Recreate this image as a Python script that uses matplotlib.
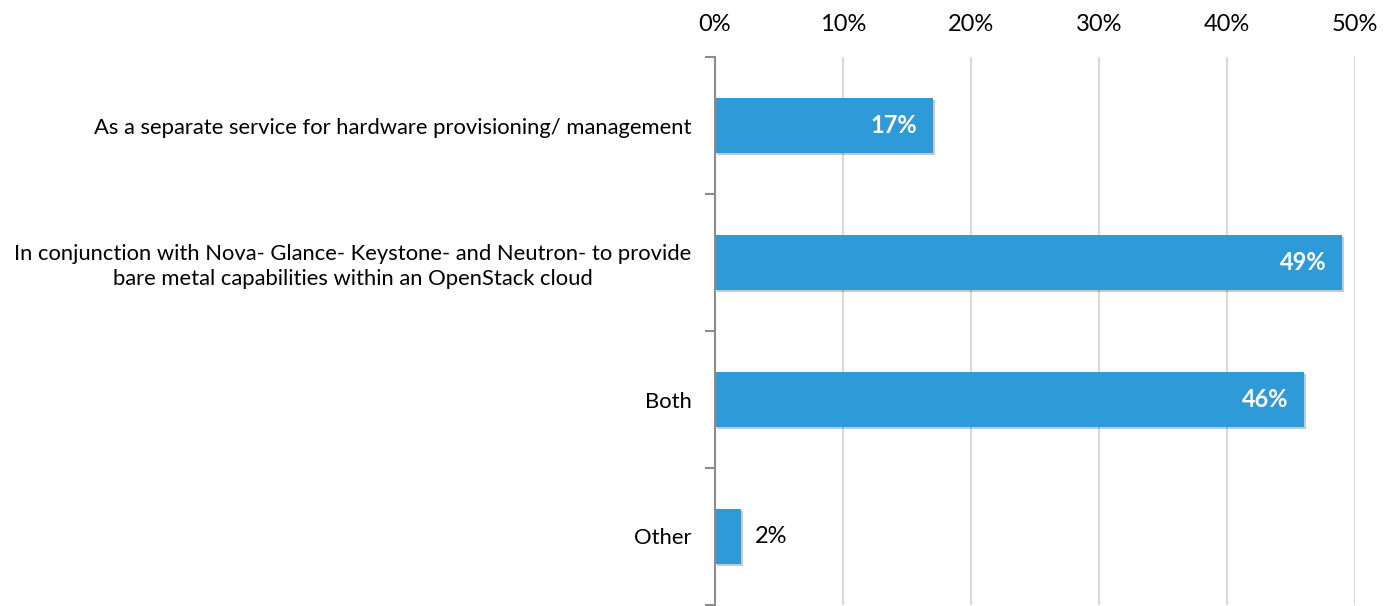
import matplotlib.pyplot as plt
from matplotlib.ticker import FixedLocator, FuncFormatter
import matplotlib.patheffects as pe

categories = [
    "As a separate service for hardware provisioning/ management",
    "In conjunction with Nova- Glance- Keystone- and Neutron- to provide\nbare metal capabilities within an OpenStack cloud",
    "Both",
    "Other",
]
values = [17, 49, 46, 2]
value_labels = ["17%", "49%", "46%", "2%"]
xticks = [0, 10, 20, 30, 40, 50]

plt.rcParams['font.family'] = ['Lato', 'DejaVu Sans']

fig = plt.figure(figsize=(13.94, 6.06), dpi=100)
ax = fig.add_axes([715 / 1394, 1 / 606, 640 / 1394, 548 / 606])

ypos = list(range(len(categories)))
bars = ax.barh(ypos, values, height=0.4, color="#2f9ad8", zorder=3,
               path_effects=[pe.SimplePatchShadow(offset=(1.5, -1.5), alpha=0.25), pe.Normal()])

ax.set_xlim(0, 50)
ax.set_ylim(len(categories) - 0.5, -0.5)

ax.xaxis.tick_top()
ax.set_xticks(xticks)
ax.xaxis.set_major_formatter(FuncFormatter(lambda v, p: f"{v:.0f}%"))
ax.tick_params(axis="x", length=0, pad=16, labelsize=17)
ax.grid(axis="x", color="#d9d9d9", linewidth=1.5, zorder=0)

ax.set_yticks(ypos)
ax.set_yticklabels(categories, fontsize=15.8, multialignment="center", linespacing=1.3)
ax.yaxis.set_minor_locator(FixedLocator([i - 0.5 for i in range(len(categories) + 1)]))
ax.tick_params(axis="y", which="major", length=0, pad=17)
ax.tick_params(axis="y", which="minor", length=7, width=1.5, color="#8c8c8c")

for s in ["top", "right", "bottom"]:
    ax.spines[s].set_visible(False)
ax.spines["left"].set_color("#8c8c8c")
ax.spines["left"].set_linewidth(1.5)
ax.spines["left"].set_zorder(4)

for y, v, lab in zip(ypos, values, value_labels):
    if v > 10:
        ax.text(v - 1.2, y, lab, ha="right", va="center", color="white",
                fontsize=17, fontweight="bold", zorder=5)
    else:
        ax.text(v + 1.1, y, lab, ha="left", va="center", color="black",
                fontsize=17, zorder=5)

fig.savefig("out.png", dpi=100)
